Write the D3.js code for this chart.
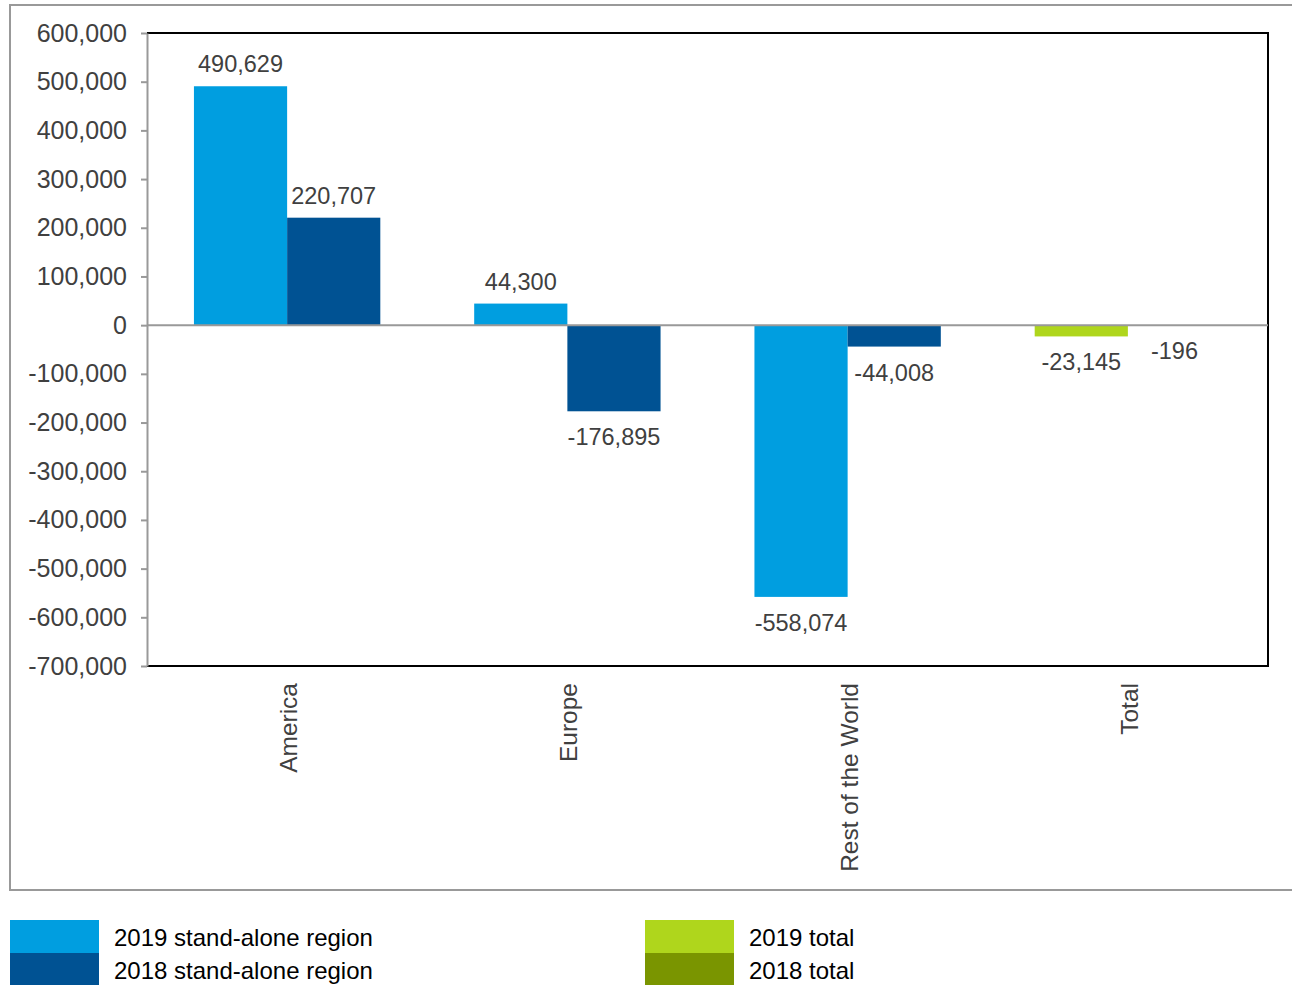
<!DOCTYPE html>
<meta charset="utf-8">
<style>
body { margin: 0; background: #fff; font-family: Arial, "Liberation Sans", sans-serif; }
.tick text { font-size: 25px; fill: #404040; }
.lbl { font-size: 23.5px; fill: #404040; }
.cat { font-size: 24.5px; fill: #404040; }
.leg { font-size: 24px; fill: #000; }
</style>
<body>
<script src="https://d3js.org/d3.v7.min.js"></script>
<script>
// data
let categories = ["America", "Europe", "Rest of the World", "Total"];
let values2019 = [490629, 44300, -558074, -23145];
let values2018 = [220707, -176895, -44008, -196];
let yTicks = [600000, 500000, 400000, 300000, 200000, 100000, 0, -100000, -200000, -300000, -400000, -500000, -600000, -700000];
let legendItems = ["2019 stand-alone region", "2018 stand-alone region", "2019 total", "2018 total"];

let colors = {
    c2019: "#009ee0", c2018: "#005293",
    t2019: "#afd61c", t2018: "#7a9500"
};

let svg = d3.select("body").append("svg")
    .attr("width", 1292)
    .attr("height", 985);

// outer frame
svg.append("rect")
    .attr("x", 10).attr("y", 5)
    .attr("width", 1290).attr("height", 885)
    .attr("fill", "none").attr("stroke", "#999").attr("stroke-width", 2);

let plot = {left: 147, right: 1268, top: 33, bottom: 666};

let y = d3.scaleLinear().domain([-700000, 600000]).range([plot.bottom, plot.top]);
let x = d3.scaleBand().domain(categories).range([plot.left, plot.right]).paddingInner(0.335).paddingOuter(0.1675);
let sub = d3.scaleBand().domain(["2019", "2018"]).range([0, x.bandwidth()]);

// plain hyphen for negatives, like the original
let fmt = d3.formatLocale({decimal: ".", thousands: ",", grouping: [3], currency: ["", ""], minus: "-"}).format(",");

// plot border (black top/right/bottom)
svg.append("path")
    .attr("d", "M" + plot.left + "," + plot.top + "H" + plot.right + "V" + plot.bottom + "H" + plot.left)
    .attr("fill", "none").attr("stroke", "#000").attr("stroke-width", 2);

// y axis
let yAxis = svg.append("g")
    .attr("transform", "translate(" + plot.left + ",0)")
    .call(d3.axisLeft(y).tickValues(yTicks).tickFormat(fmt).tickSize(6).tickSizeOuter(0).tickPadding(14));
yAxis.select(".domain").attr("stroke", "#999").attr("stroke-width", 2);
yAxis.selectAll(".tick line").attr("stroke", "#999").attr("stroke-width", 2);
yAxis.attr("font-family", null).attr("font-size", null);

// bars
let rows = [];
categories.forEach(function (c, i) {
    let isTotal = c === "Total";
    rows.push({cat: c, year: "2019", v: values2019[i], color: isTotal ? colors.t2019 : colors.c2019});
    rows.push({cat: c, year: "2018", v: values2018[i], color: isTotal ? colors.t2018 : colors.c2018});
});

svg.selectAll("rect.bar").data(rows).enter().append("rect")
    .attr("class", "bar")
    .attr("x", function (d) { return x(d.cat) + sub(d.year); })
    .attr("width", sub.bandwidth())
    .attr("y", function (d) { return y(Math.max(0, d.v)); })
    .attr("height", function (d) { return Math.abs(y(d.v) - y(0)); })
    .attr("fill", function (d) { return d.color; });

// zero line
svg.append("line")
    .attr("x1", plot.left).attr("x2", plot.right)
    .attr("y1", y(0)).attr("y2", y(0))
    .attr("stroke", "#999").attr("stroke-width", 2);

// value labels
svg.selectAll("text.lbl").data(rows).enter().append("text")
    .attr("class", "lbl")
    .attr("text-anchor", "middle")
    .attr("x", function (d) { return x(d.cat) + sub(d.year) + sub.bandwidth() / 2; })
    .attr("y", function (d) { return d.v >= 0 ? y(d.v) - 14 : y(d.v) + 34; })
    .text(function (d) { return fmt(d.v); });

// category labels
svg.selectAll("text.cat").data(categories).enter().append("text")
    .attr("class", "cat")
    .attr("text-anchor", "end")
    .attr("transform", function (d) {
        return "translate(" + (x(d) + x.bandwidth() / 2 + 10) + "," + (plot.bottom + 17) + ") rotate(-90)";
    })
    .text(function (d) { return d; });

// legend
let legColors = [colors.c2019, colors.c2018, colors.t2019, colors.t2018];
let legPos = [[10, 920], [10, 953], [645, 920], [645, 953]];
legendItems.forEach(function (t, i) {
    svg.append("rect")
        .attr("x", legPos[i][0]).attr("y", legPos[i][1])
        .attr("width", 89).attr("height", 33)
        .attr("fill", legColors[i]);
    svg.append("text")
        .attr("class", "leg")
        .attr("x", legPos[i][0] + 104).attr("y", legPos[i][1] + 26)
        .text(t);
});
</script>
</body>
